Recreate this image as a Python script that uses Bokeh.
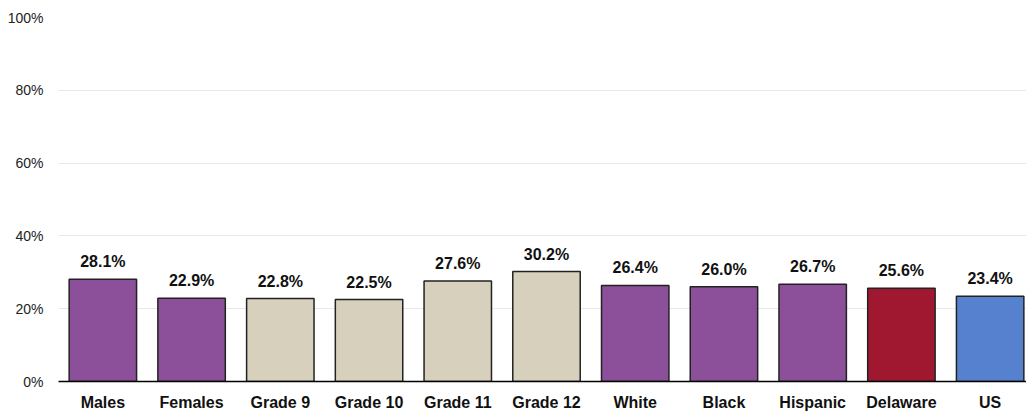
from bokeh.plotting import figure
from bokeh.models import ColumnDataSource, FactorRange, PrintfTickFormatter, FixedTicker
from bokeh.core.properties import value
from bokeh.embed import file_html
from bokeh.resources import INLINE

categories = ["Males", "Females", "Grade 9", "Grade 10", "Grade 11", "Grade 12",
              "White", "Black", "Hispanic", "Delaware", "US"]
values = [28.1, 22.9, 22.8, 22.5, 27.6, 30.2, 26.4, 26.0, 26.7, 25.6, 23.4]
colors = ["#8c4f9a", "#8c4f9a", "#d6d0bc", "#d6d0bc", "#d6d0bc", "#d6d0bc",
          "#8c4f9a", "#8c4f9a", "#8c4f9a", "#a0182f", "#5681cf"]
labels = [f"{v:.1f}%" for v in values]
y_ticks = [0, 20, 40, 60, 80, 100]

src = ColumnDataSource(dict(cat=categories, val=values, color=colors, label=labels))

p = figure(x_range=FactorRange(*categories, range_padding=0), y_range=(0, 100),
           width=1034, height=413, output_backend="svg", toolbar_location=None,
           min_border_left=58, min_border_right=0, min_border_top=17, min_border_bottom=0)
p.x_range.range_padding = 0

p.vbar(x="cat", top="val", width=0.76, source=src, fill_color="color",
       line_color="#222222", line_width=1.5)

p.text(x="cat", y="val", text="label", source=src, text_align="center",
       text_baseline="bottom", y_offset=-9,
       text_font=value("Liberation Sans"), text_font_style="bold",
       text_font_size="16px", text_color="#111111")

p.outline_line_color = None
p.xgrid.grid_line_color = None
p.ygrid.grid_line_color = "#e8e8e8"
p.ygrid.grid_line_width = 1

p.yaxis.ticker = FixedTicker(ticks=y_ticks)
p.yaxis.formatter = PrintfTickFormatter(format="%d%%")
p.yaxis.axis_line_color = None
p.yaxis.major_tick_line_color = None
p.yaxis.major_tick_out = 0
p.yaxis.major_tick_in = 0
p.yaxis.minor_tick_line_color = None
p.yaxis.major_label_text_font = "Liberation Sans"
p.yaxis.major_label_text_font_size = "14px"
p.yaxis.major_label_text_color = "#222222"
p.yaxis.major_label_standoff = 15

p.xaxis.axis_line_color = "#000000"
p.xaxis.axis_line_width = 1.5
p.xaxis.major_tick_line_color = None
p.xaxis.major_tick_out = 0
p.xaxis.major_tick_in = 0
p.xaxis.minor_tick_line_color = None
p.xaxis.major_label_text_font = "Liberation Sans"
p.xaxis.major_label_text_font_style = "bold"
p.xaxis.major_label_text_font_size = "16px"
p.xaxis.major_label_text_color = "#111111"
p.xaxis.major_label_standoff = 12

open("out.html", "w").write(file_html(p, INLINE))
